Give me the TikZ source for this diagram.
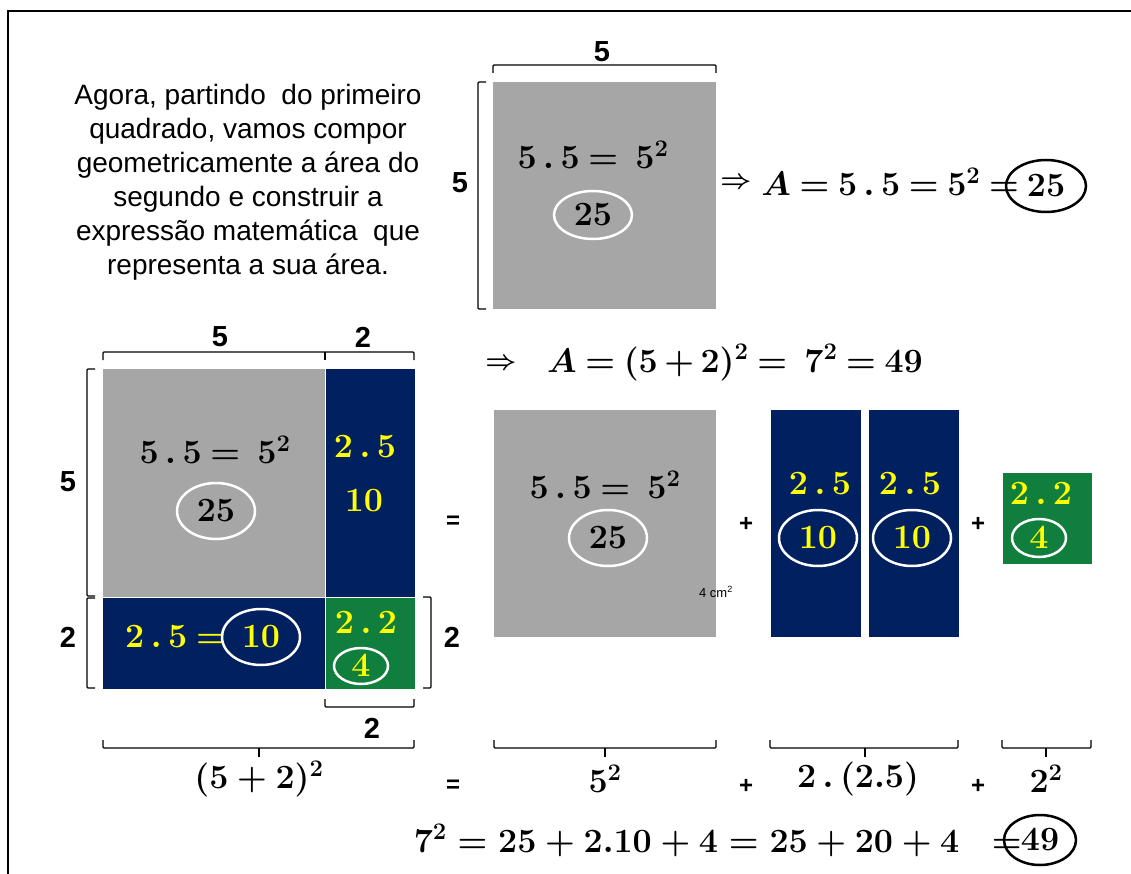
\RequirePackage{fix-cm}
\documentclass[tikz,border=0pt]{standalone}
\usepackage[no-math]{fontspec}
\setmainfont{Liberation Sans}
\usepackage{amsmath}
\usetikzlibrary{shapes.geometric, positioning}
\definecolor{blockGray}{RGB}{166, 166, 166}
\definecolor{blockNavy}{RGB}{0, 32, 96}
\definecolor{blockGreen}{RGB}{16, 126, 61}
\definecolor{markYellow}{RGB}{255, 255, 0}
\newcommand{\tightmath}{\thickmuskip=4mu\relax\medmuskip=3mu\relax}
\tikzset{
    % blocos de área
    baseBlock/.style={rectangle, inner sep=0pt, anchor=north west},
    G/.style={baseBlock, fill=blockGray},
    N/.style={baseBlock, fill=blockNavy},
    V/.style={baseBlock, fill=blockGreen},
    %
    % textos
    mth/.style={font=\fontsize{34}{40}\selectfont\boldmath, inner sep=0pt},
    tight/.style={mth, font=\fontsize{34}{40}\selectfont\boldmath\tightmath},
    ymth/.style={tight, text=markYellow},
    dim/.style={font=\fontsize{29}{29}\selectfont\bfseries, inner sep=0pt},
    op/.style={font=\fontsize{24}{24}\selectfont\bfseries, inner sep=0pt},
    imp/.style={font=\fontsize{27}{27}\selectfont\boldmath, inner sep=0pt},
    %
    % elipses em volta dos resultados
    ring/.style={mth, ellipse, draw=white, line width=2.5pt, minimum width=78pt, minimum height=56pt},
    bring/.style={ring, draw=black},
    %
    % chaves / colchetes
    brkt/.style={draw=black, line width=1.2pt, rounded corners=1pt}
}
\begin{document}
\begin{tikzpicture}[x=1pt, y=-1pt]
	\useasboundingbox (0,0) rectangle (1131,874);
	\draw[line width=2pt] (8,874) -- (8,11) -- (1131,11);

	%% texto
	\node[align=center, font=\fontsize{28}{34}\selectfont] (intro) at (248,182)
	{Agora, partindo\ \ do primeiro\\quadrado, vamos compor\\geometricamente a área do\\segundo e construir a\\expressão matemática\ \ que\\representa a sua área.};

	%% primeiro quadrado
	\node[G, minimum width=223pt, minimum height=227pt] (sqTop) at (493,82) {};
	\draw[brkt] (493,73) -- (493,65) -- (716,65) -- (716,73);
	\draw[brkt] (486,82) -- (478,82) -- (478,309) -- (486,309);
	\node[dim] (topW) at (602,52) {5};
	\node[dim] (topH) at (460,183) {5};
	\node[tight] (topEq) at (593,155) {$5\,.\,5 = \;5^{2}$};
	\node[ring, minimum height=48pt] (topR) at (593,215) {$25$};
	\node[imp] (impA) at (736,183) {$\Rightarrow$};
	\node[tight, anchor=base east] (areaA) at (1019,196) {$A = 5\,.\,5 = 5^{2} =$};
	\node[bring, minimum width=80pt, minimum height=52pt] (areaR) at (1046,186) {$25$};

	\node[imp] (impB) at (501,364) {$\Rightarrow$};
	\node[tight, anchor=base west] (areaB) at (547,372) {$A = (5+2)^{2} = \;7^{2} = 49$};

	%% segundo quadrado (composto)
	\node[G, minimum width=222pt, minimum height=228pt] (sqBig) at (103,369) {};
	\node[N, minimum width=89pt, minimum height=228pt, right=0pt of sqBig] (colR) {};
	\node[N, minimum width=222pt, minimum height=91pt, below=0pt of sqBig] (rowB) {};
	\node[V, minimum width=89pt, minimum height=91pt, below=0pt of colR] (sqSm) {};

	\draw[brkt] (103,360) -- (103,352) -- (414,352) -- (414,360);
	\draw[brkt] (325,352) -- (325,360);
	\draw[brkt] (95,369) -- (87,369) -- (87,596) -- (95,596);
	\draw[brkt] (95,598) -- (87,598) -- (87,688) -- (95,688);
	\draw[brkt] (423,597) -- (431,597) -- (431,688) -- (423,688);
	\draw[brkt] (325,699) -- (325,707) -- (414,707) -- (414,699);
	\node[dim] (bigW) at (220,337) {5};
	\node[dim] (colW) at (363,337) {2};
	\node[dim] (bigH) at (68,482) {5};
	\node[dim] (rowH) at (68,637) {2};
	\node[dim] (smH) at (452,637) {2};
	\node[dim] (smW) at (372,728) {2};

	\node[tight] (bigEq) at (215,450) {$5\,.\,5 = \;5^{2}$};
	\node[ring] (bigR) at (216,511) {$25$};
	\node[ymth] (colEq) at (365,447) {$2\,.\,5$};
	\node[ymth] (colV) at (364,501) {$10$};
	\node[ymth, anchor=east] (rowEq) at (226,637) {$2\,.\,5 =$};
	\node[ring, text=markYellow] (rowR) at (261,637) {$10$};
	\node[ymth] (smEq) at (366,623) {$2\,.\,2$};
	\node[ring, text=markYellow, minimum width=54pt, minimum height=36pt] (smR) at (361,666) {$4$};

	%% partes separadas
	\node[op] (eqA) at (453,522) {=};
	\node[G, minimum width=222pt, minimum height=227pt] (sqPart) at (494,410) {};
	\node[N, minimum width=90pt, minimum height=227pt, right=54pt of sqPart] (colA) {};
	\node[N, minimum width=90pt, minimum height=227pt, right=8pt of colA] (colB) {};
	\node[V, minimum width=89pt, minimum height=91pt, right=44pt of colB, yshift=5pt] (sqPartS) {};
	\node[op] (plA) at (746,524) {+};
	\node[op] (plB) at (978,524) {+};

	\node[tight] (partEq) at (605,485) {$5\,.\,5 = \;5^{2}$};
	\node[ring] (partR) at (608,538) {$25$};
	\node[font=\fontsize{13}{13}\selectfont, inner sep=0pt] (unit) at (716,592) {4 cm\textsuperscript{2}};
	\node[ymth] (colAEq) at (820,484) {$2\,.\,5$};
	\node[ring, text=markYellow] (colAR) at (818,538) {$10$};
	\node[ymth] (colBEq) at (910,484) {$2\,.\,5$};
	\node[ring, text=markYellow] (colBR) at (912,538) {$10$};
	\node[ymth] (sqSEq) at (1041,494) {$2\,.\,2$};
	\node[ring, text=markYellow, minimum width=54pt, minimum height=38pt] (sqSR) at (1039,538) {$4$};

	%% chaves de baixo
	\draw[brkt] (103,740) -- (103,748) -- (414,748) -- (414,740);
	\draw[brkt] (259,748) -- (259,757);
	\draw[brkt] (494,740) -- (494,748) -- (716,748) -- (716,740);
	\draw[brkt] (605,748) -- (605,757);
	\draw[brkt] (770,740) -- (770,748) -- (958,748) -- (958,740);
	\draw[brkt] (865,748) -- (865,757);
	\draw[brkt] (1002,740) -- (1002,748) -- (1091,748) -- (1091,740);
	\draw[brkt] (1046,748) -- (1046,757);

	\node[mth] (sumL) at (259,779) {$(5+2)^{2}$};
	\node[op] (eqB) at (453,786) {=};
	\node[mth] (sumA) at (605,779) {$5^{2}$};
	\node[op] (plC) at (746,786) {+};
	\node[mth] (sumB) at (858,779) {$2\,.\,(2.5)$};
	\node[op] (plD) at (978,786) {+};
	\node[mth] (sumC) at (1046,779) {$2^{2}$};

	\node[mth, anchor=base east] (total) at (1022,852) {$7^{2} = 25 + 2.10 + 4 = 25 + 20 + 4\;\; =$};
	\node[bring, minimum width=72pt, minimum height=50pt] (totalR) at (1040,840) {$49$};

\end{tikzpicture}
\end{document}
